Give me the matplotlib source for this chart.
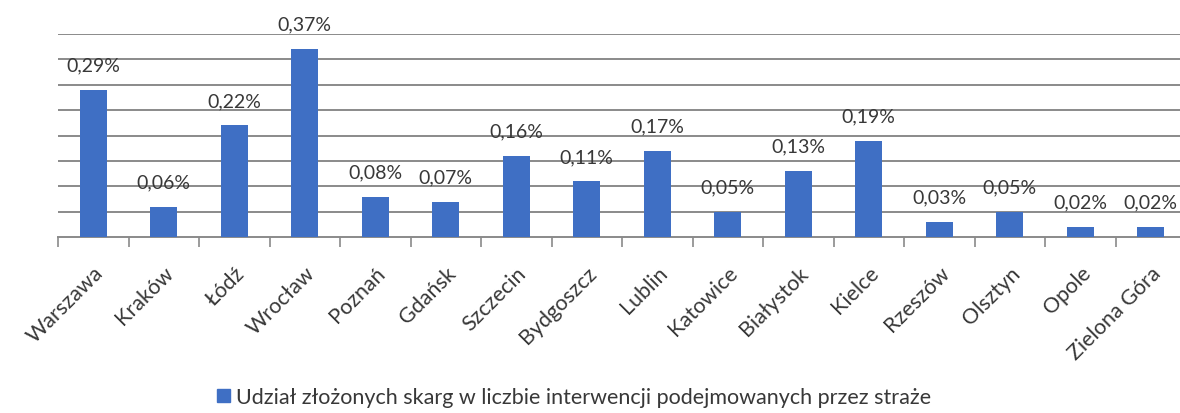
import matplotlib.pyplot as plt
from matplotlib.patches import Patch

# dane
miasta = ['Warszawa', 'Kraków', 'Łódź', 'Wrocław', 'Poznań', 'Gdańsk', 'Szczecin',
          'Bydgoszcz', 'Lublin', 'Katowice', 'Białystok', 'Kielce', 'Rzeszów',
          'Olsztyn', 'Opole', 'Zielona Góra']
udzial = [0.29, 0.06, 0.22, 0.37, 0.08, 0.07, 0.16, 0.11, 0.17, 0.05, 0.13, 0.19,
          0.03, 0.05, 0.02, 0.02]
legenda = 'Udział złożonych skarg w liczbie interwencji podejmowanych przez straże'

kolor = '#3f6fc4'
tekst = '#383838'
plt.rcParams['font.family'] = ['Lato', 'DejaVu Sans']

fig = plt.figure(figsize=(11.8, 4.14), dpi=100)
ax = fig.add_axes([58 / 1180, 175.7 / 414, 1128 / 1180, 203.3 / 414])

x = range(len(miasta))
ax.bar(x, udzial, width=0.38, color=kolor, zorder=3)

ax.set_xlim(-0.5, len(miasta) - 0.5)
ax.set_ylim(0, 0.40)
ax.set_yticks([0.05 * i for i in range(1, 9)])
ax.yaxis.grid(True, color='#8a8a8a', linewidth=1.4, zorder=0)
ax.tick_params(axis='y', length=0, labelleft=False)

# etykiety wartości nad słupkami
for i, v in enumerate(udzial):
    ax.annotate(f'{v:.2f}%'.replace('.', ','), (i, v), xytext=(0, 25),
                textcoords='offset pixels', ha='center', va='center',
                fontsize=14, color=tekst, clip_on=False)

# oś x: kreski między kategoriami
ax.set_xticks([i - 0.5 for i in range(len(miasta) + 1)])
ax.set_xticklabels([])
ax.set_xticks(list(x), minor=True)
ax.set_xticklabels(miasta, minor=True, rotation=45, ha='right',
                   rotation_mode='anchor', fontsize=15.5, color=tekst)
ax.tick_params(axis='x', which='major', length=7, width=1.2, color='#8a8a8a')
ax.tick_params(axis='x', which='minor', length=0, pad=18)

for s in ['top', 'right', 'left']:
    ax.spines[s].set_visible(False)
ax.spines['bottom'].set_color('#8a8a8a')
ax.spines['bottom'].set_linewidth(1.4)

fig.legend(handles=[Patch(color=kolor, label=legenda)], loc='center',
           bbox_to_anchor=(574 / 1180, 1 - 398 / 414), frameon=False,
           fontsize=15.5, handlelength=0.6, handleheight=0.6, handletextpad=0.3,
           labelcolor=tekst)

fig.savefig('out.png', dpi=100)
